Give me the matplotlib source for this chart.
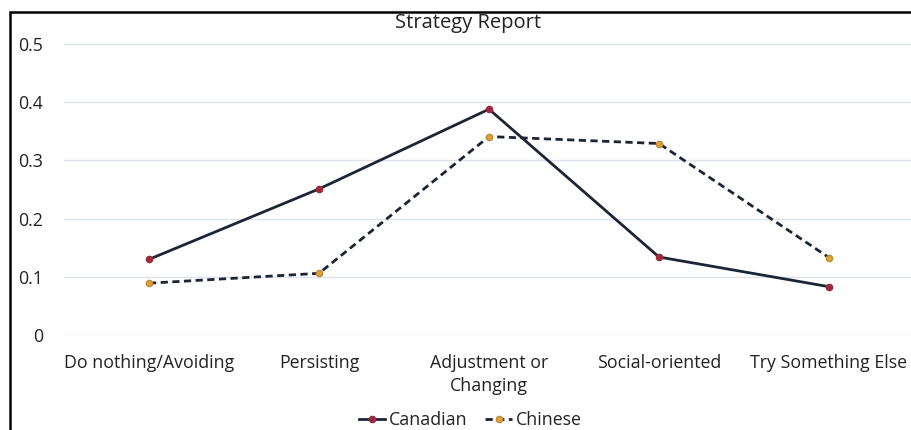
import matplotlib.pyplot as plt
from matplotlib.patches import Rectangle

categories = ["Do nothing/Avoiding", "Persisting", "Adjustment or\nChanging",
              "Social-oriented", "Try Something Else"]
canadian = [0.13, 0.251, 0.388, 0.134, 0.083]
chinese = [0.089, 0.106, 0.341, 0.329, 0.133]
yticks = [0, 0.1, 0.2, 0.3, 0.4, 0.5]
ytick_labels = ["0", "0.1", "0.2", "0.3", "0.4", "0.5"]

plt.rcParams["font.family"] = ["Open Sans", "DejaVu Sans"]

W, H = 912, 430
fig = plt.figure(figsize=(W / 100, H / 100), dpi=100)
ax = fig.add_axes([64 / W, 1 - 335 / H, 850 / W, (335 - 44) / H])

x = range(len(categories))
ax.plot(x, canadian, color="#1c2535", linewidth=2.0, marker="o", markersize=4.5,
        markerfacecolor="#9c2a3c", markeredgecolor="#9c2a3c", label="Canadian", zorder=3)
ax.plot(x, chinese, color="#1c2535", linewidth=2.0, linestyle=(0, (2.6, 1.6)), marker="o",
        markersize=4.5, markerfacecolor="#d9a441", markeredgecolor="#c08a30",
        label="Chinese", zorder=3)

ax.set_xlim(-0.5, 4.5)
ax.set_ylim(0, 0.5)
ax.set_yticks(yticks)
ax.set_yticklabels(ytick_labels)
ax.set_xticks(list(x))
ax.set_xticklabels(categories, linespacing=1.3)
ax.grid(axis="y", color="#dce3ec", linewidth=1.0)
ax.set_axisbelow(True)
for side in ["top", "right", "left", "bottom"]:
    ax.spines[side].set_visible(False)
ax.tick_params(axis="both", length=0, labelsize=12.8, colors="#222222")
ax.tick_params(axis="y", pad=15)
ax.tick_params(axis="x", pad=14)

fig.text(468 / W, 1 - 23 / H, "Strategy Report", ha="center", va="center",
         fontsize=14.5, color="#222222")

leg = fig.legend(loc="center", bbox_to_anchor=(470 / W, 1 - 420 / H), ncol=2,
                 frameon=False, fontsize=12.8, handlelength=1.5, handletextpad=0.2,
                 columnspacing=1.0, labelcolor="#222222")

# black frame from the screenshot crop
fig.patches.append(Rectangle((10 / W, -0.1), 1.2, 1 - 12 / H + 0.1, transform=fig.transFigure,
                             fill=False, edgecolor="black", linewidth=1.8))

fig.savefig("out.png", dpi=100)
